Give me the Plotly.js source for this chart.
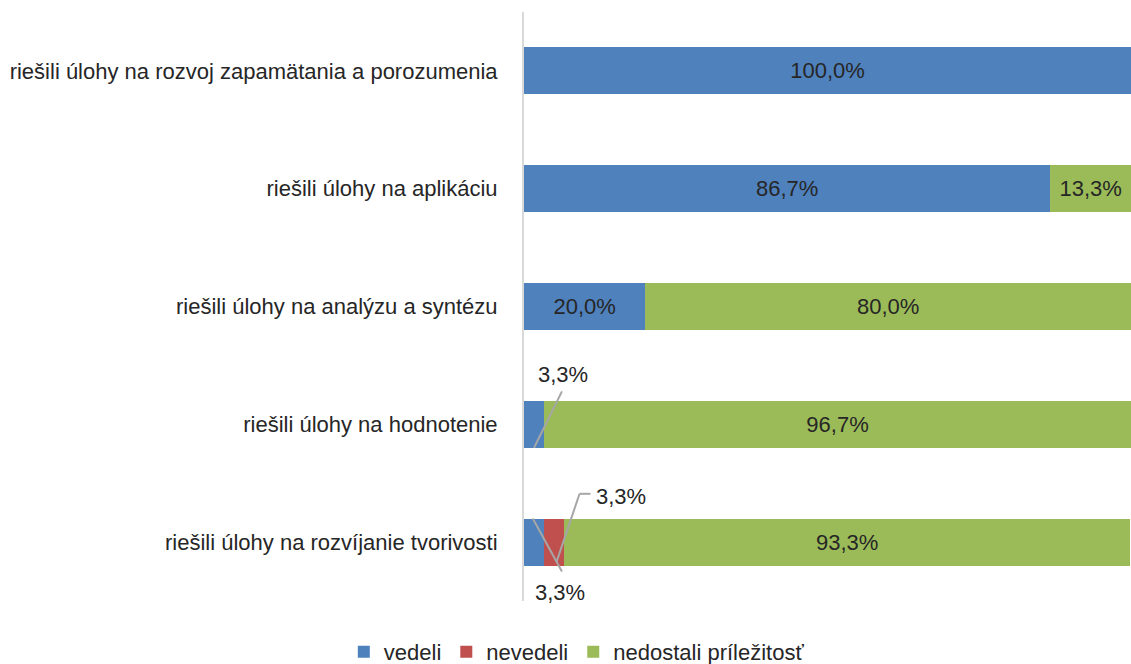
<!DOCTYPE html>
<html><head><meta charset="utf-8">
<script src="https://cdn.plot.ly/plotly-3.0.1.min.js"></script>
<style>html,body{margin:0;padding:0;background:#fff}</style>
</head><body><div id="chart" style="width:1131px;height:664px"></div>
<script>
const categories = [
  "riešili úlohy na rozvoj zapamätania a porozumenia",
  "riešili úlohy na aplikáciu",
  "riešili úlohy na analýzu a syntézu",
  "riešili úlohy na hodnotenie",
  "riešili úlohy na rozvíjanie tvorivosti"
];
const seriesNames = ["vedeli", "nevedeli", "nedostali príležitosť"];
const vedeli = [100.0, 86.7, 20.0, 3.3, 3.3];
const nevedeli = [0, 0, 0, 0, 3.3];
const nedostali = [0, 13.3, 80.0, 96.7, 93.3];
const colors = ["#4F81BD", "#C0504D", "#9BBB59"];

const FONT = "Liberation Sans, Arial, sans-serif";
const FS = 22;
const TXT = "#262626";
const fmt = v => v.toFixed(1).replace('.', ',') + '%';
const MIN_INSIDE = 5; // segments narrower than this get a callout label

function trace(name, vals, color) {
  return {
    type: 'bar', orientation: 'h', name: name,
    y: categories, x: vals,
    marker: {color: color, line: {width: 0}},
    text: vals.map(v => (v >= MIN_INSIDE ? fmt(v) : '')),
    textposition: 'inside', insidetextanchor: 'middle',
    textfont: {family: FONT, size: FS, color: TXT},
    hoverinfo: 'none'
  };
}
const data = [
  trace(seriesNames[0], vedeli, colors[0]),
  trace(seriesNames[1], nevedeli, colors[1]),
  trace(seriesNames[2], nedostali, colors[2])
];

const half = 0.2;
const annotations = [];
const shapes = [];
const lineStyle = {color: '#A6A6A6', width: 2};
const afont = {family: FONT, size: FS, color: TXT};
{
  const i = 3, cx = vedeli[i] / 2;
  shapes.push({type: 'line', xref: 'x', yref: 'y', x0: cx, y0: i + half, x1: cx + 4.6, y1: i - 0.28, line: lineStyle});
  annotations.push({x: cx + 4.7, y: i - 0.42, xref: 'x', yref: 'y', text: fmt(vedeli[i]), showarrow: false, font: afont});
}
{
  const i = 4, cx = vedeli[i] / 2;
  shapes.push({type: 'line', xref: 'x', yref: 'y', x0: cx - 0.2, y0: i - half, x1: cx + 4.6, y1: i + 0.25, line: lineStyle});
  annotations.push({x: cx + 4.3, y: i + 0.43, xref: 'x', yref: 'y', text: fmt(vedeli[i]), showarrow: false, font: afont});
}
{
  const i = 4, cx = vedeli[i] + nevedeli[i] / 2;
  shapes.push({type: 'line', xref: 'x', yref: 'y', x0: cx + 0.4, y0: i + 0.17, x1: cx + 4.2, y1: i - 0.41, line: lineStyle});
  shapes.push({type: 'line', xref: 'x', yref: 'y', x0: cx + 4.2, y0: i - 0.41, x1: cx + 6.0, y1: i - 0.41, line: lineStyle});
  annotations.push({x: cx + 6.6, y: i - 0.39, xref: 'x', yref: 'y', xanchor: 'left', text: fmt(nevedeli[i]), showarrow: false, font: afont});
}

const layout = {
  width: 1131, height: 664,
  margin: {l: 524, r: 0, t: 12, b: 63, autoexpand: false},
  barmode: 'stack', bargap: 0.6,
  paper_bgcolor: '#fff', plot_bgcolor: '#fff',
  font: {family: FONT, size: FS, color: TXT},
  showlegend: true,
  legend: {orientation: 'h', xref: 'container', yref: 'container', x: 0.51, y: 0.018,
    xanchor: 'center', yanchor: 'middle', font: {family: FONT, size: FS, color: TXT},
    traceorder: 'normal', itemwidth: 30},
  xaxis: {range: [0, 100], autorange: false, showgrid: false, zeroline: false, showticklabels: false, showline: false, fixedrange: true},
  yaxis: {type: 'category', categoryorder: 'array', categoryarray: categories, range: [categories.length - 0.5, -0.5], autorange: false,
    showline: true, linecolor: '#D9D9D9', linewidth: 2, ticks: '', showgrid: false,
    ticklabelstandoff: 20, tickfont: {family: FONT, size: FS, color: TXT}},
  shapes: shapes, annotations: annotations
};
Plotly.newPlot('chart', data, layout, {displayModeBar: false, staticPlot: true});
</script></body></html>
